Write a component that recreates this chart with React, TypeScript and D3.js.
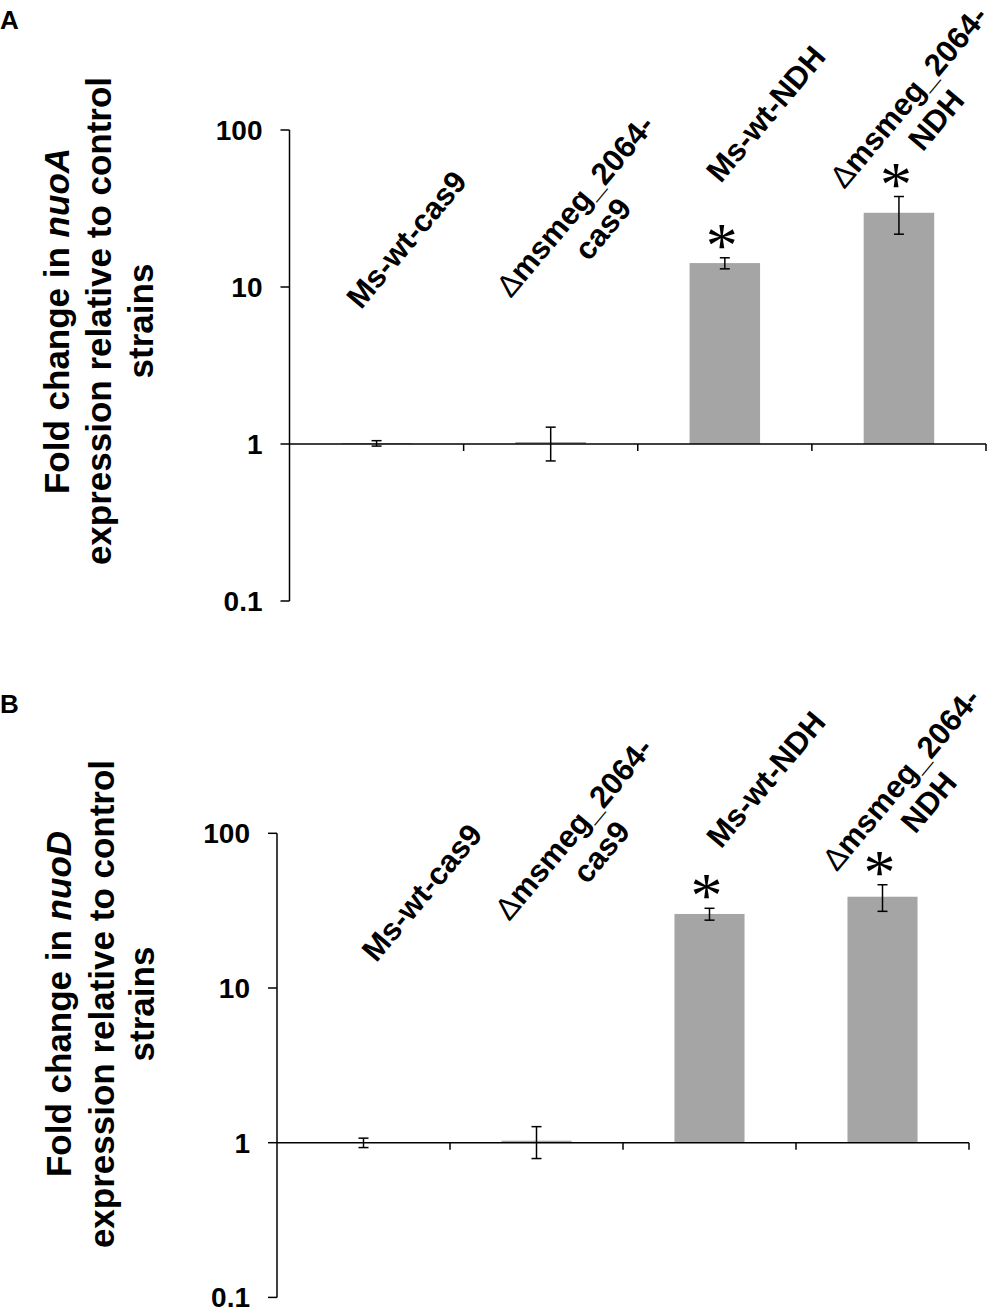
import { useEffect } from "react"
import * as d3 from "d3"

const categories = ["Ms-wt-cas9", "Δmsmeg_2064-cas9", "Ms-wt-NDH", "Δmsmeg_2064-NDH"]
const categoryLines = [["Ms-wt-cas9"], ["Δmsmeg_2064-", "cas9"], ["Ms-wt-NDH"], ["Δmsmeg_2064-", "NDH"]]

const nuoAValues = [1.01, 1.03, 14.2, 29.7]
const nuoAErrors = [0.04, 0.25, 1.15, 8.0]
const nuoDValues = [1.0, 1.03, 30.1, 38.9]
const nuoDErrors = [0.07, 0.24, 2.65, 7.6]
const significant = [false, false, true, true]

const yTicks = [0.1, 1, 10, 100]

const FONT = "'Liberation Sans', Arial, Helvetica, sans-serif"

interface PanelProps {
  letter: string
  gene: string
  values: number[]
  errors: number[]
  left: number
  right: number
  top: number
  bottom: number
  letterY: number
  titleY: number
  titleX: number[]
  labelPos: number[][]
}

function Panel({ letter, gene, values, errors, left, right, top, bottom, letterY, titleY, titleX, labelPos }: PanelProps) {
  const y = d3.scaleLog().domain([0.1, 100]).range([bottom, top])
  const x = d3.scaleBand<string>().domain(categories).range([left, right]).paddingInner(0.595).paddingOuter(0.2975)
  const step = x.step()
  const base = y(1)

  return (
    <g fontFamily={FONT}>
      <text x={0} y={letterY} fontSize={26} fontWeight="bold">{letter}</text>

      {/* y title */}
      <g transform={`translate(0, ${titleY})`} fontSize={35} fontWeight="bold" textAnchor="middle">
        <text transform={`translate(${titleX[0]},0) rotate(-90)`}>
          Fold change in <tspan fontStyle="italic">{gene}</tspan>
        </text>
        <text transform={`translate(${titleX[1]},0) rotate(-90)`}>expression relative to control</text>
        <text transform={`translate(${titleX[2]},0) rotate(-90)`}>strains</text>
      </g>

      {/* bars */}
      {categories.map((c, i) => (
        <rect
          key={c}
          x={x(c)}
          y={y(values[i])}
          width={x.bandwidth()}
          height={Math.max(0, base - y(values[i]))}
          fill="#a5a5a5"
        />
      ))}

      {/* error bars */}
      {categories.map((c, i) => {
        const cx = (x(c) as number) + x.bandwidth() / 2
        const y0 = y(values[i] + errors[i])
        const y1 = y(values[i] - errors[i])
        return (
          <g key={c} stroke="#000" strokeWidth={1.5}>
            <line x1={cx} x2={cx} y1={y0} y2={y1} />
            <line x1={cx - 5} x2={cx + 5} y1={y0} y2={y0} />
            <line x1={cx - 5} x2={cx + 5} y1={y1} y2={y1} />
          </g>
        )
      })}

      {/* significance */}
      {categories.map((c, i) =>
        significant[i] ? (
          <text
            key={c}
            x={(x(c) as number) + x.bandwidth() / 2 - 3}
            y={y(values[i] + errors[i]) + 9}
            fontSize={64}
            fontFamily="'Liberation Serif', 'Times New Roman', serif"
            textAnchor="middle"
          >
            *
          </text>
        ) : null
      )}

      {/* y axis */}
      <line x1={left} x2={left} y1={top} y2={bottom} stroke="#000" strokeWidth={1.5} />
      {yTicks.map((t) => (
        <g key={t}>
          <line x1={left - 9} x2={left} y1={y(t)} y2={y(t)} stroke="#000" strokeWidth={1.5} />
          <text x={left - 27} y={y(t)} dy="0.36em" textAnchor="end" fontSize={28} fontWeight="bold">
            {t}
          </text>
        </g>
      ))}

      {/* x axis at 1 */}
      <line x1={left} x2={right} y1={base} y2={base} stroke="#000" strokeWidth={1.5} />
      {categories.map((c, i) => (
        <line
          key={c}
          x1={left + step * (i + 1)}
          x2={left + step * (i + 1)}
          y1={base}
          y2={base + 7}
          stroke="#000"
          strokeWidth={1.5}
        />
      ))}

      {/* category labels */}
      {categories.map((c, i) => {
        const lines = categoryLines[i]
        const cx = (x(c) as number) + x.bandwidth() / 2 + labelPos[i][0]
        const cy = top + labelPos[i][1]
        const lh = 36
        return (
          <g key={c} transform={`translate(${cx},${cy}) rotate(-50)`} fontSize={31} fontWeight="bold" textAnchor="middle">
            {lines.map((ln, j) => (
              <text key={j} y={(j - (lines.length - 1) / 2) * lh} dy="0.36em">
                {ln.startsWith("Δ") ? (
                  <>
                    <tspan fontWeight="normal">Δ</tspan>
                    {ln.slice(1)}
                  </>
                ) : (
                  ln
                )}
              </text>
            ))}
          </g>
        )
      })}
    </g>
  )
}

export default function App() {
  useEffect(() => {
    document.body.style.margin = "0"
  }, [])

  return (
    <svg width={988} height={1307} style={{ display: "block", background: "#fff" }}>
      <Panel
        letter="A"
        gene="nuoA"
        values={nuoAValues}
        errors={nuoAErrors}
        left={289.5}
        right={986}
        top={130}
        bottom={601}
        letterY={29}
        titleY={321}
        titleX={[69, 111, 153]}
        labelPos={[
          [29.6, 109],
          [37.9, 87],
          [40.6, -16.5],
          [23, -22],
        ]}
      />
      <Panel
        letter="B"
        gene="nuoD"
        values={nuoDValues}
        errors={nuoDErrors}
        left={277}
        right={969}
        top={833.3}
        bottom={1297.4}
        letterY={713}
        titleY={1004}
        titleX={[71, 114, 154]}
        labelPos={[
          [58, 58.7],
          [50.5, 6.7],
          [56, -54.3],
          [32, -43],
        ]}
      />
    </svg>
  )
}
